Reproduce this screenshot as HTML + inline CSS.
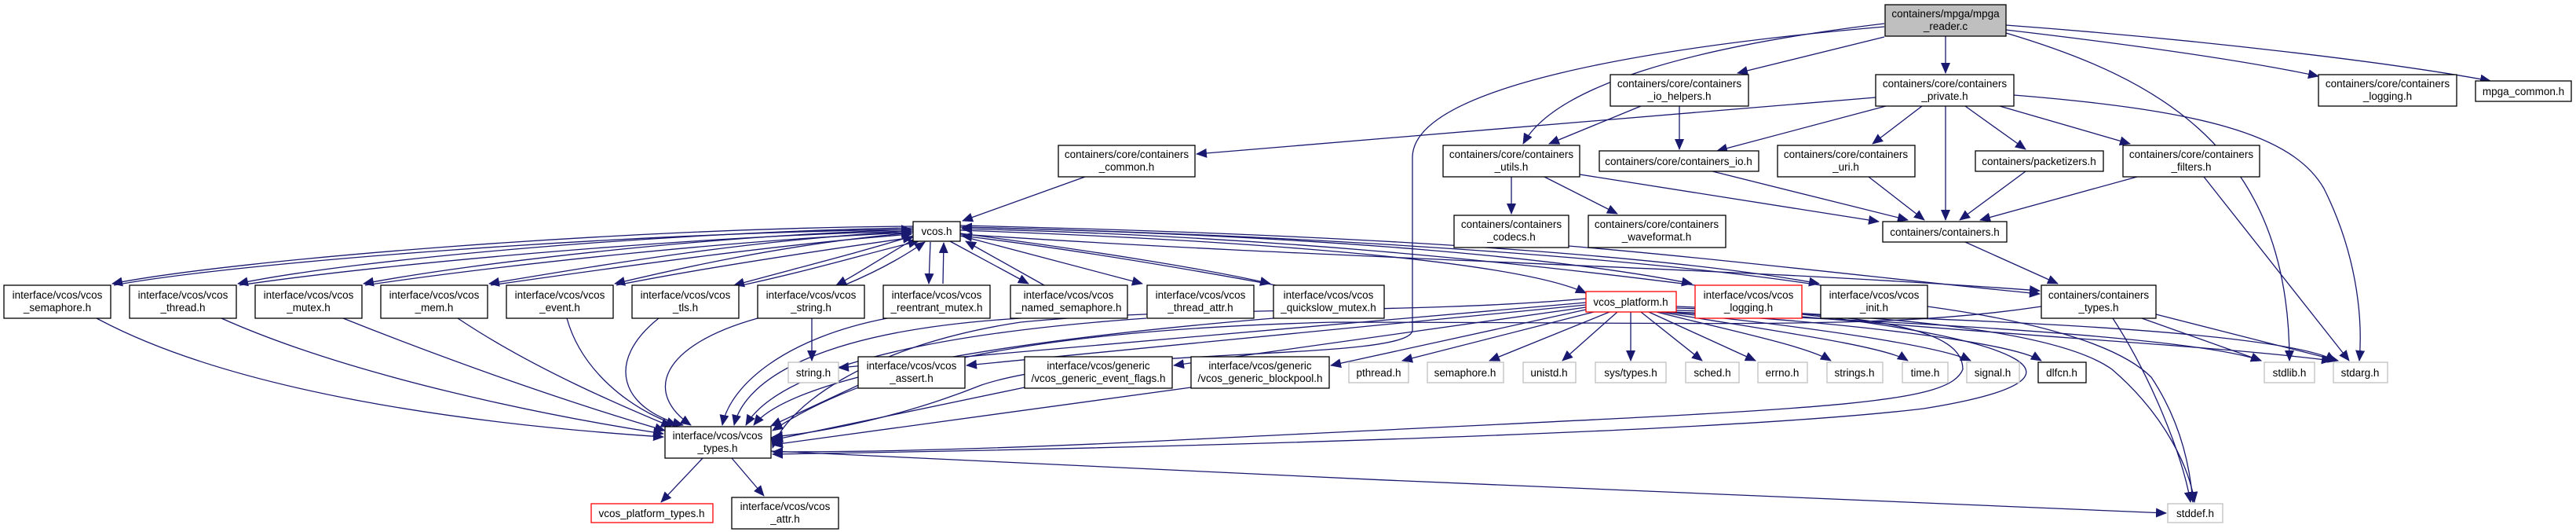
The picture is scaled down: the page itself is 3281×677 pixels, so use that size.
<!DOCTYPE html>
<html><head><meta charset="utf-8"><style>
html,body{margin:0;padding:0;background:#fff;}
svg{display:block;}
text{font-family:"Liberation Sans",sans-serif;font-size:13.5px;fill:#000;text-anchor:middle;}
.e{fill:none;stroke:#191970;stroke-width:1.3;}
</style></head><body>
<svg width="3281" height="677" viewBox="0 0 3281 677" xmlns="http://www.w3.org/2000/svg">
<defs>
<marker id="a" markerUnits="userSpaceOnUse" markerWidth="14" markerHeight="12" refX="13" refY="6" orient="auto"><path d="M0,0 L14,6 L0,12 z" fill="#191970"/></marker>
</defs>
<g class="e" marker-end="url(#a)">
<!-- from reader -->
<path d="M2400,47 L2213,93"/>
<path d="M2478,46 L2478,93"/>
<path d="M2555,38 C2700,55 2850,75 2953,97"/>
<path d="M2555,32 C2800,50 3050,80 3172,103"/>
<path d="M2555,42 C2750,100 2916,190 2916,459"/>
<path d="M2400,30 C2150,60 1980,110 1940,183"/>
<path d="M2400,34 C2100,60 1800,110 1799,200 L1799,420 C1799,460 1400,440 1250,490 C1150,530 1050,550 984,556"/>
<!-- private -->
<path d="M2389,124 L1524,196"/>
<path d="M2402,135 L2187,192"/>
<path d="M2448,135 L2385,183"/>
<path d="M2478,135 L2478,280"/>
<path d="M2503,135 L2580,190"/>
<path d="M2547,135 L2713,183"/>
<path d="M2565,121 C2800,140 2920,170 2960,240 C3000,320 3010,400 3005,459"/>
<!-- io_helpers -->
<path d="M2090,135 L1973,183"/>
<path d="M2139,135 L2139,190"/>
<path d="M2181,218 L2430,280"/>
<!-- utils -->
<path d="M1925,225 L1925,272"/>
<path d="M1967,225 L2060,272"/>
<path d="M2012,222 L2393,282"/>
<path d="M2380,225 L2451,280"/>
<path d="M2580,218 L2496,280"/>
<path d="M2722,225 L2522,280"/>
<path d="M2807,225 L2992,459"/>
<path d="M2503,308 L2621,361"/>
<path d="M1382,225 L1226,281"/>
<path d="M1998,313 C2200,330 2450,360 2598,374"/>
<!-- containers_types -->
<path d="M2728,405 L2880,459"/>
<path d="M2746,400 L2978,459"/>
<path d="M2691,405 C2740,480 2780,580 2790,639"/>
<path d="M2600,390 C2400,420 2200,410 1700,410 C1300,420 1100,470 984,548"/>
<!-- vcos.h to left row -->
<path d="M1163,288 C800,290 300,330 143,361"/>
<path d="M1163,290 C850,295 450,330 303,361"/>
<path d="M1163,292 C900,300 600,335 463,361"/>
<path d="M1163,294 C950,305 750,340 623,361"/>
<path d="M1163,296 C1000,310 850,345 783,361"/>
<path d="M1163,300 C1100,320 1000,345 935,363"/>
<path d="M1163,305 C1120,330 1090,350 1065,363"/>
<path d="M145,363 C300,334 800,296 1161,292"/>
<path d="M305,363 C500,334 900,300 1161,294"/>
<path d="M465,363 C650,336 950,304 1161,296"/>
<path d="M625,363 C800,338 1000,310 1161,298"/>
<path d="M785,363 C900,340 1050,318 1163,302"/>
<path d="M945,363 C1050,340 1120,318 1170,307"/>
<path d="M1075,363 C1130,340 1160,320 1178,308"/>
<!-- vcos.h to right row -->
<path d="M1185,308 L1183,361"/>
<path d="M1201,361 L1202,309"/>
<path d="M1210,307 L1310,361"/>
<path d="M1330,363 L1230,307"/>
<path d="M1223,300 L1455,361"/>
<path d="M1223,297 C1400,320 1550,345 1618,361"/>
<path d="M1625,363 C1500,340 1350,315 1225,300"/>
<path d="M1223,293 C1700,310 1950,340 2020,373"/>
<path d="M1223,289 C1700,300 2000,330 2155,361"/>
<path d="M2159,363 C1900,330 1600,300 1225,291"/>
<path d="M1223,287 C1800,300 2150,330 2317,361"/>
<path d="M2319,363 C2100,330 1700,300 1225,289"/>
<path d="M1223,298 C1700,330 2200,340 2598,370"/>
<!-- row5 to vcos_types -->
<path d="M123,405 C300,500 600,540 845,556"/>
<path d="M282,405 C450,480 700,530 845,552"/>
<path d="M437,405 C600,470 750,520 847,548"/>
<path d="M583,405 C680,470 800,520 855,543"/>
<path d="M722,405 C740,470 800,520 862,541"/>
<path d="M839,405 C770,460 790,520 870,541"/>
<path d="M965,405 C840,440 820,500 880,541"/>
<path d="M1034,405 L1034,459"/>
<path d="M1130,405 C1000,430 930,490 920,541"/>
<path d="M1300,405 C1050,420 950,480 935,541"/>
<path d="M1460,405 C1100,430 980,490 950,541"/>
<path d="M1622,405 C1200,440 1000,490 960,541"/>
<path d="M1100,487 L982,542"/>
<path d="M1305,493 L984,560"/>
<path d="M1517,493 L984,566"/>
<!-- platform -->
<path d="M2020,385 L1068,468"/>
<path d="M2020,388 L1231,465"/>
<path d="M2020,391 L1495,465"/>
<path d="M2020,394 L1695,465"/>
<path d="M2030,397 L1786,459"/>
<path d="M2050,397 L1897,459"/>
<path d="M2060,397 L1990,459"/>
<path d="M2077,397 L2077,459"/>
<path d="M2090,397 L2168,459"/>
<path d="M2100,397 L2236,459"/>
<path d="M2110,397 C2200,420 2300,440 2332,459"/>
<path d="M2115,397 C2250,420 2400,440 2430,459"/>
<path d="M2120,397 C2300,415 2470,440 2510,459"/>
<path d="M2125,397 C2350,410 2560,435 2600,459"/>
<path d="M2130,397 C2450,410 2800,430 2880,459"/>
<path d="M2135,395 C2500,405 2900,420 2975,459"/>
<path d="M2135,392 C2400,400 2620,420 2690,470 C2760,530 2790,600 2795,639"/>
<path d="M2020,380 C1800,400 1500,390 1300,410 C1100,440 1000,520 984,570"/>
<path d="M2135,390 C2400,400 2500,420 2500,470 C2480,520 2300,520 1500,560 C1200,575 1050,575 984,575"/>
<!-- logging/init -->
<path d="M2295,403 C2600,430 2820,440 2970,459"/>
<path d="M2455,390 C2600,410 2700,440 2740,480 C2780,540 2790,600 2793,639"/>
<path d="M2295,400 C2560,430 2700,480 2450,520 C2200,550 1500,570 984,578"/>
<!-- vcos_types -->
<path d="M895,583 L842,639"/>
<path d="M932,583 L973,631"/>
<path d="M982,574 C1500,600 2400,640 2759,653"/>
</g>
<!-- nodes -->
<g stroke="#000" stroke-width="1.3" fill="#fff">
<rect x="2401" y="6" width="154" height="40" fill="#bfbfbf"/>
<rect x="2051" y="95" width="176" height="40"/>
<rect x="2389" y="95" width="176" height="40"/>
<rect x="2953" y="95" width="176" height="40"/>
<rect x="3153" y="103" width="122" height="26"/>
<rect x="1348" y="185" width="174" height="40"/>
<rect x="1838" y="185" width="174" height="40"/>
<rect x="2037" y="192" width="203" height="26"/>
<rect x="2264" y="185" width="175" height="40"/>
<rect x="2516" y="192" width="163" height="26"/>
<rect x="2704" y="185" width="174" height="40"/>
<rect x="1163" y="282" width="60" height="25"/>
<rect x="1852" y="274" width="146" height="41"/>
<rect x="2023" y="274" width="175" height="41"/>
<rect x="2398" y="282" width="158" height="26"/>
<rect x="5" y="363" width="136" height="42"/>
<rect x="165" y="363" width="136" height="42"/>
<rect x="325" y="363" width="136" height="42"/>
<rect x="485" y="363" width="136" height="42"/>
<rect x="645" y="363" width="136" height="42"/>
<rect x="805" y="363" width="136" height="42"/>
<rect x="965" y="363" width="136" height="42"/>
<rect x="1125" y="363" width="136" height="42"/>
<rect x="1287" y="363" width="149" height="42"/>
<rect x="1461" y="363" width="136" height="42"/>
<rect x="1622" y="363" width="141" height="42"/>
<rect x="2020" y="371" width="115" height="26" stroke="#ff0000"/>
<rect x="2159" y="363" width="136" height="42" stroke="#ff0000"/>
<rect x="2319" y="363" width="136" height="42"/>
<rect x="2600" y="363" width="146" height="42"/>
<rect x="1093" y="454" width="136" height="40"/>
<rect x="1305" y="454" width="188" height="40"/>
<rect x="1517" y="454" width="176" height="40"/>
<rect x="2596" y="461" width="61" height="26"/>
<rect x="847" y="543" width="135" height="40"/>
<rect x="753" y="641" width="155" height="24" stroke="#ff0000"/>
<rect x="932" y="633" width="136" height="40"/>
</g>
<g stroke="#bfbfbf" stroke-width="1.3" fill="#fff">
<rect x="1004" y="461" width="64" height="26"/>
<rect x="1718" y="461" width="76" height="26"/>
<rect x="1818" y="461" width="97" height="26"/>
<rect x="1940" y="461" width="67" height="26"/>
<rect x="2032" y="461" width="90" height="26"/>
<rect x="2147" y="461" width="68" height="26"/>
<rect x="2239" y="461" width="63" height="26"/>
<rect x="2327" y="461" width="71" height="26"/>
<rect x="2423" y="461" width="58" height="26"/>
<rect x="2505" y="461" width="67" height="26"/>
<rect x="2884" y="461" width="64" height="26"/>
<rect x="2972" y="461" width="69" height="26"/>
<rect x="2761" y="641" width="70" height="24"/>
</g>
<g>
<text x="2478" y="22">containers/mpga/mpga</text><text x="2478" y="38">_reader.c</text>
<text x="2139" y="111">containers/core/containers</text><text x="2139" y="127">_io_helpers.h</text>
<text x="2477" y="111">containers/core/containers</text><text x="2477" y="127">_private.h</text>
<text x="3041" y="111">containers/core/containers</text><text x="3041" y="127">_logging.h</text>
<text x="3214" y="121">mpga_common.h</text>
<text x="1435" y="201">containers/core/containers</text><text x="1435" y="217">_common.h</text>
<text x="1925" y="201">containers/core/containers</text><text x="1925" y="217">_utils.h</text>
<text x="2138" y="210">containers/core/containers_io.h</text>
<text x="2351" y="201">containers/core/containers</text><text x="2351" y="217">_uri.h</text>
<text x="2597" y="210">containers/packetizers.h</text>
<text x="2791" y="201">containers/core/containers</text><text x="2791" y="217">_filters.h</text>
<text x="1193" y="299">vcos.h</text>
<text x="1925" y="290">containers/containers</text><text x="1925" y="306">_codecs.h</text>
<text x="2110" y="290">containers/core/containers</text><text x="2110" y="306">_waveformat.h</text>
<text x="2477" y="300">containers/containers.h</text>
<text x="73" y="380">interface/vcos/vcos</text><text x="73" y="396">_semaphore.h</text>
<text x="233" y="380">interface/vcos/vcos</text><text x="233" y="396">_thread.h</text>
<text x="393" y="380">interface/vcos/vcos</text><text x="393" y="396">_mutex.h</text>
<text x="553" y="380">interface/vcos/vcos</text><text x="553" y="396">_mem.h</text>
<text x="713" y="380">interface/vcos/vcos</text><text x="713" y="396">_event.h</text>
<text x="873" y="380">interface/vcos/vcos</text><text x="873" y="396">_tls.h</text>
<text x="1033" y="380">interface/vcos/vcos</text><text x="1033" y="396">_string.h</text>
<text x="1193" y="380">interface/vcos/vcos</text><text x="1193" y="396">_reentrant_mutex.h</text>
<text x="1361" y="380">interface/vcos/vcos</text><text x="1361" y="396">_named_semaphore.h</text>
<text x="1529" y="380">interface/vcos/vcos</text><text x="1529" y="396">_thread_attr.h</text>
<text x="1692" y="380">interface/vcos/vcos</text><text x="1692" y="396">_quickslow_mutex.h</text>
<text x="2077" y="389">vcos_platform.h</text>
<text x="2227" y="380">interface/vcos/vcos</text><text x="2227" y="396">_logging.h</text>
<text x="2387" y="380">interface/vcos/vcos</text><text x="2387" y="396">_init.h</text>
<text x="2673" y="380">containers/containers</text><text x="2673" y="396">_types.h</text>
<text x="1036" y="479">string.h</text>
<text x="1161" y="470">interface/vcos/vcos</text><text x="1161" y="486">_assert.h</text>
<text x="1399" y="470">interface/vcos/generic</text><text x="1399" y="486">/vcos_generic_event_flags.h</text>
<text x="1605" y="470">interface/vcos/generic</text><text x="1605" y="486">/vcos_generic_blockpool.h</text>
<text x="1756" y="479">pthread.h</text>
<text x="1866" y="479">semaphore.h</text>
<text x="1973" y="479">unistd.h</text>
<text x="2077" y="479">sys/types.h</text>
<text x="2181" y="479">sched.h</text>
<text x="2270" y="479">errno.h</text>
<text x="2362" y="479">strings.h</text>
<text x="2452" y="479">time.h</text>
<text x="2538" y="479">signal.h</text>
<text x="2626" y="479">dlfcn.h</text>
<text x="2916" y="479">stdlib.h</text>
<text x="3006" y="479">stdarg.h</text>
<text x="914" y="559">interface/vcos/vcos</text><text x="914" y="575">_types.h</text>
<text x="830" y="658">vcos_platform_types.h</text>
<text x="1000" y="649">interface/vcos/vcos</text><text x="1000" y="665">_attr.h</text>
<text x="2796" y="658">stddef.h</text>
</g>
</svg>
</body></html>
